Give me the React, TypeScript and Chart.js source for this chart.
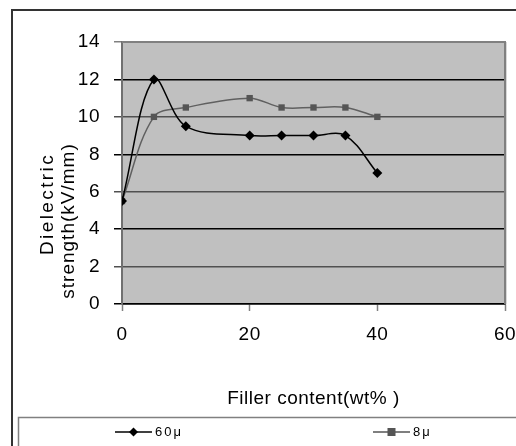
import React, { useEffect, useRef } from 'react';
import { Chart, registerables } from 'chart.js';

Chart.register(...registerables);

// ---- data ----
const fillerContent = [0, 5, 10, 20, 25, 30, 35, 40];
const strength60 = [5.5, 12, 9.5, 9, 9, 9, 9, 7];
const strength8 = [5.5, 10, 10.5, 11, 10.5, 10.5, 10.5, 10];
const seriesNames = ['60μ', '8μ'];
const xTitle = 'Filler content(wt% )';
const yTitleLines = ['Dielectric', 'strength(kV/mm)'];
const xMin = 0, xMax = 60, xStep = 20;
const yMin = 0, yMax = 14, yStep = 2;

const FONT = '"Liberation Sans", Arial, sans-serif';
const SPACING = '0.5px';

const framePlugin = {
  id: 'frame',
  beforeLayout(chart: any) {
    chart.ctx.letterSpacing = SPACING;
  },
  beforeDraw(chart: any) {
    const { ctx, chartArea: a } = chart;
    ctx.save();
    ctx.fillStyle = '#ffffff';
    ctx.fillRect(0, 0, chart.width, chart.height);
    ctx.fillStyle = '#c0c0c0';
    ctx.fillRect(a.left, a.top, a.right - a.left, a.bottom - a.top);
    // outer chart border
    ctx.strokeStyle = '#333333';
    ctx.lineWidth = 2;
    ctx.beginPath();
    ctx.moveTo(12, chart.height + 2);
    ctx.lineTo(12, 10);
    ctx.lineTo(chart.width + 2, 10);
    ctx.stroke();
    // legend box
    ctx.strokeStyle = '#808080';
    ctx.lineWidth = 1.5;
    ctx.strokeRect(18.5, 417.5, 600, 100);
    ctx.restore();
    ctx.letterSpacing = SPACING;
  },
  afterDraw(chart: any) {
    const { ctx, chartArea: a } = chart;
    ctx.save();
    // plot border top / right
    ctx.strokeStyle = '#808080';
    ctx.lineWidth = 2;
    ctx.beginPath();
    ctx.moveTo(a.left, a.top);
    ctx.lineTo(a.right, a.top);
    ctx.lineTo(a.right, a.bottom);
    ctx.stroke();
    ctx.strokeStyle = '#d8d8d8';
    ctx.lineWidth = 1;
    ctx.beginPath();
    ctx.moveTo(a.right + 1.5, a.top);
    ctx.lineTo(a.right + 1.5, a.bottom);
    ctx.stroke();

    // y axis title (two lines, rotated)
    ctx.fillStyle = '#000';
    ctx.font = `19px ${FONT}`;
    ctx.textAlign = 'center';
    ctx.textBaseline = 'middle';
    const lineSetup = [
      { x: 48, y: 204, sp: '2.4px' },
      { x: 69, y: 221, sp: '1px' },
    ];
    yTitleLines.forEach((t, i) => {
      ctx.save();
      ctx.letterSpacing = lineSetup[i].sp;
      ctx.translate(lineSetup[i].x, lineSetup[i].y);
      ctx.rotate(-Math.PI / 2);
      ctx.fillText(t, 0, 0);
      ctx.restore();
    });

    // legend
    ctx.letterSpacing = '2px';
    ctx.font = `13px ${FONT}`;
    ctx.textAlign = 'left';
    const ly = 432;
    const items = [
      { x0: 115, x1: 152, name: seriesNames[0], color: '#000000', marker: 'diamond' },
      { x0: 373, x1: 410, name: seriesNames[1], color: '#555555', marker: 'square' },
    ];
    items.forEach((it) => {
      ctx.strokeStyle = it.color;
      ctx.lineWidth = 1.5;
      ctx.beginPath();
      ctx.moveTo(it.x0, ly);
      ctx.lineTo(it.x1, ly);
      ctx.stroke();
      const cx = (it.x0 + it.x1) / 2;
      ctx.fillStyle = it.color;
      if (it.marker === 'diamond') {
        ctx.beginPath();
        ctx.moveTo(cx, ly - 4.5);
        ctx.lineTo(cx + 4.5, ly);
        ctx.lineTo(cx, ly + 4.5);
        ctx.lineTo(cx - 4.5, ly);
        ctx.closePath();
        ctx.fill();
      } else {
        ctx.fillRect(cx - 4, ly - 4, 8, 8);
      }
      ctx.fillStyle = '#000';
      ctx.fillText(it.name, it.x1 + 3, ly);
    });
    ctx.restore();
  },
};

export default function App() {
  const ref = useRef<HTMLCanvasElement>(null);
  useEffect(() => {
    if (!ref.current) return;
    const chart = new Chart(ref.current, {
      type: 'line',
      data: {
        datasets: [
          {
            label: seriesNames[0],
            data: fillerContent.map((x, i) => ({ x, y: strength60[i] })),
            borderColor: '#000000',
            backgroundColor: '#000000',
            borderWidth: 1.5,
            pointStyle: 'rectRot',
            pointRadius: 5,
            pointBorderWidth: 0,
            tension: 0.35,
          },
          {
            label: seriesNames[1],
            data: fillerContent.map((x, i) => ({ x, y: strength8[i] })),
            borderColor: '#606060',
            backgroundColor: '#555555',
            borderWidth: 1.5,
            pointStyle: 'rect',
            pointRadius: 4.5,
            pointBorderWidth: 0,
            tension: 0.35,
          },
        ],
      },
      options: {
        animation: false,
        responsive: false,
        layout: { padding: { top: 42, right: 11, left: 0, bottom: 36 } },
        plugins: { legend: { display: false }, tooltip: { enabled: false } },
        scales: {
          x: {
            type: 'linear',
            min: xMin,
            max: xMax,
            afterFit: (s: any) => {
              s.height = 106;
              s.paddingLeft = 0;
              s.paddingRight = 0;
            },
            ticks: { stepSize: xStep, color: '#000', padding: 12, font: { family: FONT, size: 19 } },
            grid: {
              drawOnChartArea: false,
              drawTicks: true,
              tickLength: 7,
              tickColor: '#808080',
              tickWidth: 1.5,
            },
            border: { color: '#000000', width: 1.5 },
            title: {
              display: true,
              text: xTitle,
              color: '#000',
              font: { family: FONT, size: 19 },
              padding: { top: 0, bottom: 0 },
            },
          },
          y: {
            min: yMin,
            max: yMax,
            afterFit: (s: any) => {
              s.width = 122;
              s.paddingTop = 0;
              s.paddingBottom = 0;
            },
            ticks: { stepSize: yStep, color: '#000', padding: 14, font: { family: FONT, size: 19 } },
            grid: {
              color: (c: any) => (c.tick && c.tick.value === yMax ? '#808080' : (c.tick && c.tick.value % 4 === 0 ? '#000000' : '#505050')),
              lineWidth: 1.5,
              tickLength: 8,
            },
            border: { color: '#707070', width: 2 },
          },
        },
      },
      plugins: [framePlugin],
    });
    return () => chart.destroy();
  }, []);
  return (
    <div style={{ position: 'absolute', left: 0, top: 0, width: 516, height: 446 }}>
      <canvas ref={ref} width={516} height={446} />
    </div>
  );
}
